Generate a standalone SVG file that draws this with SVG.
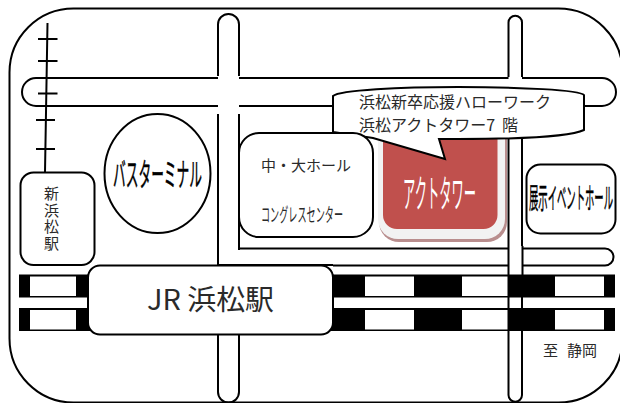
<svg xmlns="http://www.w3.org/2000/svg" width="620" height="403" viewBox="0 0 620 403">
<style>
.l{fill:none;stroke:#000;stroke-width:2}
.b{fill:#fff;stroke:#000;stroke-width:2}
.t{font-family:"Noto Sans CJK JP","Liberation Sans",sans-serif;fill:#2a2a2a}
.bd{fill:#000;stroke:#000;stroke-width:.5}
.k{fill:#000}
</style>
<rect width="620" height="403" fill="#fff"/>
<rect id="frame" x="9.5" y="8.5" width="613" height="394" rx="64" ry="64" class="b"/>
<g id="connectors">
<path class="l" d="M47.500 23L45 172M38 39H57.500M38 61H57.500M38 93.500H57.500M36 120H55M36 149H55"/>
<path class="l" d="M218 76V24.500A10.500 10.500 0 0 1 239 24.500V76M218 114V265M239 114V250M218 335V392A10.500 10.500 0 0 0 239 392V335"/>
<path class="l" d="M218 78H36A14 14 0 0 0 36 106H218M239 78H508.500M522 78H602A14 14 0 0 1 602 106H584M239 106H333"/>
<path class="l" d="M239 248.500H508.500M522 248.500H605A8.500 8.500 0 0 1 605 265.500H522M333 265.500H508.500M218 265H333"/>
<path class="l" d="M508.500 77V22.500A6.750 6.750 0 0 1 522 22.500V77M508.500 139V395A6.750 6.750 0 0 0 522 395V331M522 139V246M522.500 246V275M522 297V308"/>
</g>
<g id="tracks">
<path class="k" fill-rule="evenodd" d="M19 274.500H615V297.500H19ZM30 276.500V296H76V276.500ZM365 276.500V296H414V276.500ZM462 276.500V296H508V276.500ZM555 276.500V296H604V276.500Z"/>
<path class="k" fill-rule="evenodd" d="M19 308H615V331H19ZM30 310V329.500H76V310ZM365 310V329.500H414V310ZM462 310V329.500H508V310ZM555 310V329.500H604V310Z"/>
</g>
<g id="actotower">
<path d="M379 130H507V222A20 20 0 0 1 487 242H399A20 20 0 0 1 379 222Z" fill="#b98e8e"/>
<path d="M378 130H505V219A20 20 0 0 1 485 239H398A20 20 0 0 1 378 219Z" fill="#f2f2f2"/>
<path d="M383 130H497.500V215A14 14 0 0 1 483.500 229H397A14 14 0 0 1 383 215Z" fill="#c0504d"/>
<text class="t" x="403" y="207" font-size="38" style="fill:#fff" textLength="73" lengthAdjust="spacingAndGlyphs">アクトタワー</text>
</g>
<g id="callout">
<path class="b" d="M333 96C340 90 400 87 458 87C520 87 580 90 584 95V130C570 137 520 139 458 139H439L445 159L373 138L333 132Z"/>
<text class="t" x="359" y="108" font-size="16">浜松新卒応援ハローワーク</text>
<text class="t" x="359" y="131" font-size="16">浜松アクトタワー7<tspan x="502">階</tspan></text>
</g>
<g id="shinhamamatsu">
<rect class="b" x="20.500" y="172.500" width="74" height="92.500" rx="13"/>
<text class="t" font-size="15" text-anchor="middle"><tspan x="51.500" y="199">新</tspan><tspan x="51.500" y="216">浜</tspan><tspan x="51.500" y="232">松</tspan><tspan x="51.500" y="249">駅</tspan></text>
</g>
<g id="busterminal">
<ellipse class="b" cx="157.500" cy="173.500" rx="53" ry="59.500"/>
<text class="t bd" x="113" y="186" font-size="32" textLength="89" lengthAdjust="spacingAndGlyphs">バスターミナル</text>
</g>
<g id="hall">
<rect class="b" x="239" y="133" width="134" height="104" rx="20"/>
<text class="t" x="261" y="171" font-size="15" textLength="90" lengthAdjust="spacing">中・大ホール</text>
<text class="t" x="261" y="222" font-size="19" textLength="82" lengthAdjust="spacingAndGlyphs">コングレスセンター</text>
</g>
<g id="expo">
<rect class="b" x="526.500" y="164.500" width="89" height="69" rx="14"/>
<text class="t bd" x="529" y="209" font-size="29" textLength="84" lengthAdjust="spacingAndGlyphs">展示イベントホール</text>
</g>
<g id="jr">
<rect class="b" x="88" y="265.500" width="245" height="69" rx="12"/>
<text class="t" x="147" y="310" font-size="28" textLength="127" lengthAdjust="spacingAndGlyphs">JR 浜松駅</text>
</g>
<text class="t" id="shizuoka" y="356" font-size="15"><tspan x="543">至</tspan><tspan x="567">静岡</tspan></text>
</svg>
